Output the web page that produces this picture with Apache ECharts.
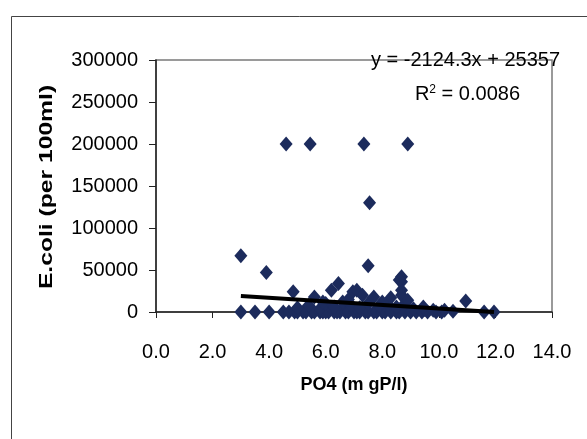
<!DOCTYPE html>
<html>
<head>
<meta charset="utf-8">
<script src="https://cdn.jsdelivr.net/npm/echarts@6/dist/echarts.min.js"></script>
<style>html,body{margin:0;padding:0;background:#fff;}#c{width:587px;height:439px;}</style>
</head>
<body>
<div id="c"></div>
<script>
// PO4 (mgP/l) values
var po4 = [
  3.0, 3.5, 4.0, 4.5, 4.7, 4.9, 5.0, 5.2, 5.3, 5.5, 5.6, 5.8, 5.9, 6.0, 6.1, 6.3, 6.4, 6.5, 6.7, 6.8,
  7.0, 7.1, 7.2, 7.4, 7.5, 7.7, 7.8, 8.0, 8.1, 8.3, 8.5, 8.6, 8.8, 9.0, 9.2, 9.4, 9.6, 9.9, 10.1, 11.6, 11.95,
  5.0, 5.4, 5.8, 6.0, 6.3, 6.6, 6.9, 7.2, 7.5, 7.9, 8.2, 8.5, 8.8, 9.1, 9.5, 9.8, 10.2, 10.5,
  3.0, 3.9, 4.85, 5.6, 6.2, 6.45, 6.96, 7.1, 7.5, 7.7, 8.3, 8.68, 8.68, 8.68, 8.68, 8.9, 9.45, 10.95, 6.8, 5.9, 7.3, 8.0, 8.6,
  4.6, 5.45, 7.35, 8.9, 7.55
];
// E.coli (per 100ml) values
var ecoli = [
  0, 0, 0, 0, 0, 0, 0, 0, 0, 0, 0, 0, 0, 0, 0, 0, 0, 0, 0, 0,
  0, 0, 0, 0, 0, 0, 0, 0, 0, 0, 0, 0, 0, 0, 0, 0, 0, 0, 0, 0, 0,
  5000, 8000, 4000, 10000, 6000, 12000, 8000, 5000, 10000, 7000, 9000, 6000, 10000, 4000, 3000, 2000, 2000, 1000,
  67000, 47000, 24000, 18000, 26000, 34000, 24000, 26000, 55000, 18000, 17000, 42000, 36000, 26000, 20000, 14000, 6000, 13000, 15000, 12000, 20000, 12000, 38000,
  200000, 200000, 200000, 200000, 130000
];
var xTicks = [0, 2, 4, 6, 8, 10, 12, 14];
var yTicks = [0, 50000, 100000, 150000, 200000, 250000, 300000];
var trendSlope = -2124.3;
var trendIntercept = 25357;
var rSquared = '0.0086';

var pts = po4.map(function (x, i) { return [x, ecoli[i]]; });
var xMin = Math.min.apply(null, po4), xMax = Math.max.apply(null, po4);
var trend = [[xMin, trendSlope * xMin + trendIntercept], [xMax, trendSlope * xMax + trendIntercept]];

var chart = echarts.init(document.getElementById('c'));
var font = 'Liberation Sans, Arial, sans-serif';
chart.setOption({
  backgroundColor: '#ffffff',
  animation: false,
  grid: { left: 156, right: 35, top: 60, bottom: 127, show: true, borderColor: '#7a7a7a', borderWidth: 1.5, backgroundColor: 'transparent' },
  xAxis: {
    type: 'value', min: xTicks[0], max: xTicks[xTicks.length - 1], interval: 2,
    splitLine: { show: false },
    axisLine: { onZero: false, lineStyle: { color: '#222', width: 1.5 } },
    axisTick: { show: true, length: 6, lineStyle: { color: '#222' } },
    axisLabel: { margin: 30, color: '#000', fontSize: 20, fontFamily: font, formatter: function (v) { return v.toFixed(1); } },
    name: 'PO4 (m gP/l)', nameLocation: 'middle', nameGap: 64,
    nameTextStyle: { color: '#000', fontSize: 18, fontWeight: 'bold', fontFamily: font }
  },
  yAxis: {
    type: 'value', min: yTicks[0], max: yTicks[yTicks.length - 1], interval: 50000,
    splitLine: { show: false },
    axisLine: { show: true, lineStyle: { color: '#222', width: 1.5 } },
    axisTick: { show: true, length: 7, lineStyle: { color: '#222' } },
    axisLabel: { margin: 18, color: '#000', fontSize: 20, fontFamily: font, formatter: function (v) { return String(v); } }
  },
  graphic: [
    { type: 'rect', left: 9, top: 14, shape: { width: 640, height: 500 }, style: { fill: 'none', stroke: '#444', lineWidth: 1 }, z: 100 },
    { type: 'text', x: 47, y: 187, rotation: Math.PI / 2, scaleX: 1.37, style: { text: 'E.coli (per 100ml)', font: 'bold 18px ' + font, fill: '#000', align: 'center', verticalAlign: 'middle' }, z: 100 },
    { type: 'text', x: 560, y: 60, style: { text: 'y = ' + trendSlope + 'x + ' + trendIntercept, font: '20px ' + font, fill: '#000', align: 'right', verticalAlign: 'middle' }, z: 100 },
    { type: 'text', x: 520, y: 94, style: { text: '{a|R}{s|2}{a| = ' + rSquared + '}', rich: { a: { font: '20px ' + font, fill: '#000', verticalAlign: 'bottom' }, s: { font: '12px ' + font, fill: '#000', verticalAlign: 'top', padding: [0, 0, 8, 0] } }, align: 'right', verticalAlign: 'middle' }, z: 100 }
  ],
  series: [
    { type: 'scatter', data: pts, symbol: 'diamond', symbolSize: [13, 15], itemStyle: { color: '#1c2b5c', opacity: 1 }, z: 2 },
    { type: 'line', data: trend, symbol: 'none', lineStyle: { color: '#000', width: 4 }, z: 3 }
  ]
});
</script>
</body>
</html>
